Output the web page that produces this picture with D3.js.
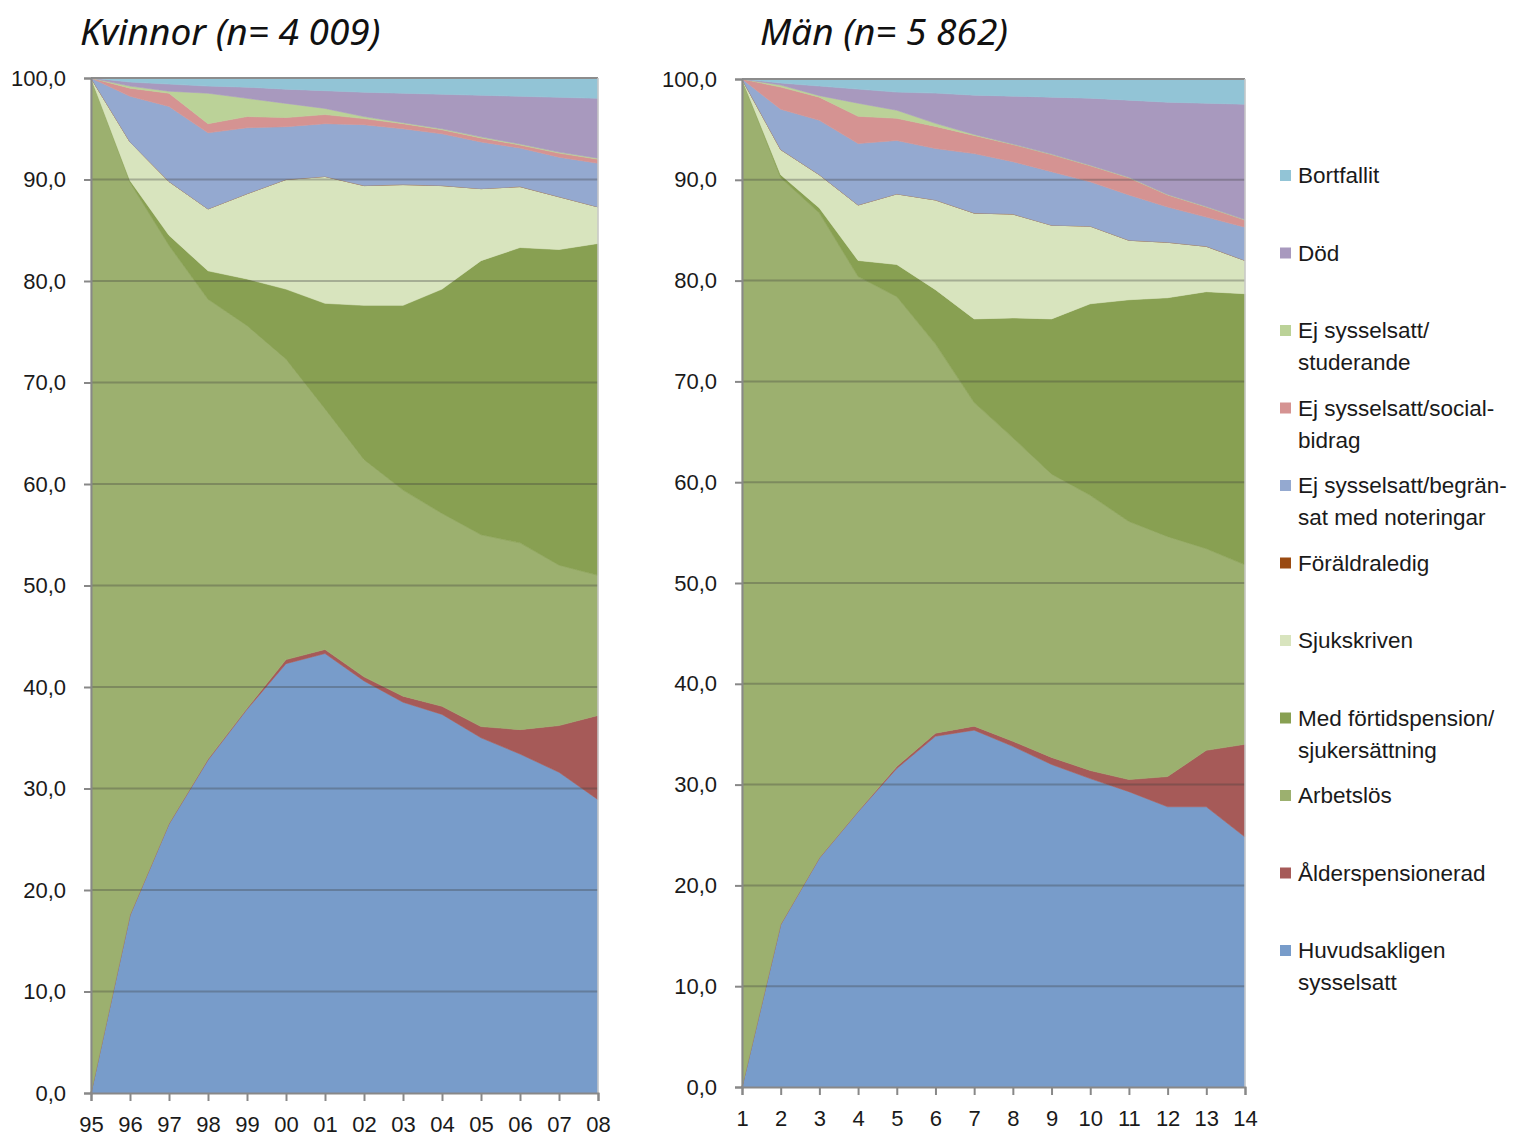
<!DOCTYPE html>
<html>
<head>
<meta charset="utf-8">
<script src="https://cdn.jsdelivr.net/npm/d3@7"></script>
<style>
  html, body { margin: 0; padding: 0; background: #fff; }
  svg { display: block; }
  .tick-label { font-family: "Liberation Sans", Arial, sans-serif; font-size: 22px; fill: #1a1a1a; }
  .legend-label { font-family: "Liberation Sans", Arial, sans-serif; font-size: 22.5px; fill: #1a1a1a; }
  .title { font-family: "Noto Sans", "Open Sans", sans-serif; font-style: italic; font-size: 37px; fill: #111; }
</style>
</head>
<body>
<svg id="chart" width="1517" height="1139"></svg>
<script>
// Categories on the x axis
const kvYears = ["95","96","97","98","99","00","01","02","03","04","05","06","07","08"];
const manYears = ["1","2","3","4","5","6","7","8","9","10","11","12","13","14"];
const yTicks = [0, 10, 20, 30, 40, 50, 60, 70, 80, 90, 100];

// Series names (bottom of the stack first)
const seriesKeys = ["huvud","alder","arbetslos","fortid","sjuk","foraldra","begr","social","stud","dod","bortfall"];
const seriesNames = {
  huvud: ["Huvudsakligen", "sysselsatt"],
  alder: ["Ålderspensionerad"],
  arbetslos: ["Arbetslös"],
  fortid: ["Med förtidspension/", "sjukersättning"],
  sjuk: ["Sjukskriven"],
  foraldra: ["Föräldraledig"],
  begr: ["Ej sysselsatt/begrän-", "sat med noteringar"],
  social: ["Ej sysselsatt/social-", "bidrag"],
  stud: ["Ej sysselsatt/", "studerande"],
  dod: ["Död"],
  bortfall: ["Bortfallit"]
};
const seriesColors = {
  huvud: "#789cca", alder: "#a65a58", arbetslos: "#9cb06f", fortid: "#88a052",
  sjuk: "#d8e4be", foraldra: "#9a4a12", begr: "#94a9d0", social: "#d59392",
  stud: "#bbd298", dod: "#a899be", bortfall: "#92c4d6"
};

// Kvinnor (n = 4 009), percent per year
const kvHuvud     = [0, 17.5, 26.5, 32.8, 37.8, 42.3, 43.3, 40.6, 38.5, 37.3, 35.0, 33.4, 31.6, 28.9];
const kvAlder     = [0, 0.05, 0.05, 0.1, 0.1, 0.4, 0.4, 0.4, 0.6, 0.8, 1.1, 2.4, 4.6, 8.3];
const kvArbetslos = [100, 72.15, 56.95, 45.3, 37.7, 29.6, 23.7, 21.4, 20.3, 19.0, 18.9, 18.4, 15.8, 13.8];
const kvFortid    = [0, 0.2, 1.0, 2.8, 4.6, 6.9, 10.4, 15.2, 18.2, 22.1, 27.0, 29.1, 31.1, 32.7];
const kvSjuk      = [0, 3.8, 5.3, 6.1, 8.4, 10.8, 12.5, 11.8, 11.9, 10.2, 7.1, 6.0, 5.2, 3.6];
const kvForaldra  = [0, 0, 0, 0, 0, 0, 0, 0, 0, 0, 0, 0, 0, 0];
const kvBegr      = [0, 4.5, 7.4, 7.5, 6.5, 5.2, 5.2, 6.0, 5.5, 5.1, 4.6, 3.8, 3.9, 4.3];
const kvSocial    = [0, 0.8, 1.3, 0.9, 1.1, 0.9, 0.9, 0.6, 0.5, 0.4, 0.4, 0.3, 0.4, 0.4];
const kvStud      = [0, 0.2, 0.2, 3.0, 1.8, 1.4, 0.6, 0.2, 0.1, 0.1, 0.1, 0.1, 0.1, 0.1];
const kvDod       = [0, 0.4, 0.7, 0.7, 1.1, 1.4, 1.75, 2.4, 2.9, 3.4, 4.1, 4.7, 5.4, 5.9];
const kvBortfall  = [0, 0.4, 0.6, 0.8, 0.9, 1.1, 1.25, 1.4, 1.5, 1.6, 1.7, 1.8, 1.9, 2.0];

// Män (n = 5 862), percent per year
const manHuvud     = [0, 16.1, 22.7, 27.3, 31.6, 34.8, 35.4, 33.8, 32.0, 30.6, 29.3, 27.8, 27.8, 24.8];
const manAlder     = [0, 0.05, 0.05, 0.05, 0.2, 0.3, 0.4, 0.5, 0.7, 0.8, 1.2, 3.0, 5.6, 9.2];
const manArbetslos = [100, 74.05, 63.95, 53.05, 46.6, 38.6, 32.1, 30.1, 28.1, 27.3, 25.6, 23.8, 20.0, 17.8];
const manFortid    = [0, 0.3, 0.5, 1.6, 3.2, 5.4, 8.3, 11.9, 15.4, 19.0, 22.0, 23.7, 25.5, 26.9];
const manSjuk      = [0, 2.5, 3.3, 5.5, 7.0, 8.9, 10.5, 10.3, 9.3, 7.7, 5.9, 5.5, 4.5, 3.3];
const manForaldra  = [0, 0, 0, 0, 0, 0, 0, 0, 0, 0, 0, 0, 0, 0];
const manBegr      = [0, 4.0, 5.4, 6.1, 5.3, 5.1, 5.9, 5.2, 5.3, 4.4, 4.5, 3.5, 2.9, 3.3];
const manSocial    = [0, 2.2, 2.3, 2.7, 2.2, 2.2, 1.8, 1.7, 1.7, 1.6, 1.7, 1.2, 1.0, 0.7];
const manStud      = [0, 0.2, 0.15, 1.3, 0.8, 0.3, 0.1, 0.05, 0.05, 0.05, 0.05, 0.05, 0.05, 0.05];
const manDod       = [0, 0.2, 0.95, 1.4, 1.8, 3.0, 3.9, 4.75, 5.65, 6.65, 7.65, 9.15, 10.25, 11.45];
const manBortfall  = [0, 0.4, 0.7, 1.0, 1.3, 1.4, 1.6, 1.7, 1.8, 1.9, 2.1, 2.3, 2.4, 2.5];

function buildRows(cats, cols) {
  return cats.map((c, i) => {
    const row = { cat: c };
    seriesKeys.forEach((k, j) => { row[k] = cols[j][i]; });
    return row;
  });
}

const kvRows = buildRows(kvYears, [kvHuvud, kvAlder, kvArbetslos, kvFortid, kvSjuk, kvForaldra, kvBegr, kvSocial, kvStud, kvDod, kvBortfall]);
const manRows = buildRows(manYears, [manHuvud, manAlder, manArbetslos, manFortid, manSjuk, manForaldra, manBegr, manSocial, manStud, manDod, manBortfall]);

const svg = d3.select("#chart");

function drawPanel(rows, cats, box, title, titleX) {
  const x = d3.scalePoint().domain(cats).range([box.x0, box.x1]);
  const y = d3.scaleLinear().domain([0, 100]).range([box.y1, box.y0]);
  const g = svg.append("g");

  const stacked = d3.stack().keys(seriesKeys)(rows);
  const area = d3.area()
    .x(d => x(d.data.cat))
    .y0(d => y(d[0]))
    .y1(d => y(d[1]))
    .curve(d3.curveLinear);

  g.selectAll("path.layer")
    .data(stacked)
    .join("path")
    .attr("class", "layer")
    .attr("d", area)
    .attr("fill", d => seriesColors[d.key])
    .attr("stroke", d => seriesColors[d.key])
    .attr("stroke-width", 0.6);

  // horizontal gridlines over the areas
  g.append("g")
    .selectAll("line")
    .data(yTicks.filter(t => t > 0 && t < 100))
    .join("line")
    .attr("x1", box.x0).attr("x2", box.x1)
    .attr("y1", d => y(d)).attr("y2", d => y(d))
    .attr("stroke", "#3c3c3c").attr("stroke-opacity", 0.32).attr("stroke-width", 2);

  // top line and right border
  g.append("line")
    .attr("x1", box.x0).attr("x2", box.x1)
    .attr("y1", y(100)).attr("y2", y(100))
    .attr("stroke", "#8c8c8c").attr("stroke-width", 2);
  g.append("line")
    .attr("x1", box.x1).attr("x2", box.x1)
    .attr("y1", y(100)).attr("y2", y(0))
    .attr("stroke", "#c8c8c8").attr("stroke-width", 1.5);

  // y axis
  const yAxis = d3.axisLeft(y).tickValues(yTicks).tickSize(7).tickPadding(18)
    .tickFormat(d => d3.format(".1f")(d).replace(".", ","));
  const ya = g.append("g").attr("transform", `translate(${box.x0},0)`).call(yAxis);
  ya.select(".domain").attr("stroke", "#888").attr("stroke-width", 2);
  ya.selectAll(".tick line").attr("stroke", "#888").attr("stroke-width", 2);
  ya.selectAll(".tick text").attr("class", "tick-label").attr("fill", null).attr("font-size", null).attr("font-family", null);

  // x axis
  const xAxis = d3.axisBottom(x).tickSize(8).tickPadding(box.xPad);
  const xa = g.append("g").attr("transform", `translate(0,${box.y1})`).call(xAxis);
  xa.select(".domain").attr("stroke", "#888").attr("stroke-width", 2);
  xa.selectAll(".tick line").attr("stroke", "#888").attr("stroke-width", 2);
  xa.selectAll(".tick text").attr("class", "tick-label").attr("fill", null).attr("font-size", null).attr("font-family", null);

  svg.append("text").attr("class", "title").attr("x", titleX).attr("y", 45).text(title);
}

drawPanel(kvRows, kvYears, { x0: 91, x1: 598, y0: 78, y1: 1093, xPad: 15 }, "Kvinnor (n= 4 009)", 80);
drawPanel(manRows, manYears, { x0: 742, x1: 1245, y0: 79, y1: 1087, xPad: 15 }, "Män (n= 5 862)", 760);

// legend, top of the stack first
const legendOrder = seriesKeys.slice().reverse();
const legend = svg.append("g");
legendOrder.forEach((k, i) => {
  const cy = 175 + i * 77.5;
  const item = legend.append("g");
  item.append("rect")
    .attr("x", 1280).attr("y", cy - 5).attr("width", 11).attr("height", 11)
    .attr("fill", seriesColors[k]);
  seriesNames[k].forEach((line, j) => {
    item.append("text")
      .attr("class", "legend-label")
      .attr("x", 1298)
      .attr("y", cy + 8 + j * 32)
      .text(line);
  });
});
</script>
</body>
</html>
